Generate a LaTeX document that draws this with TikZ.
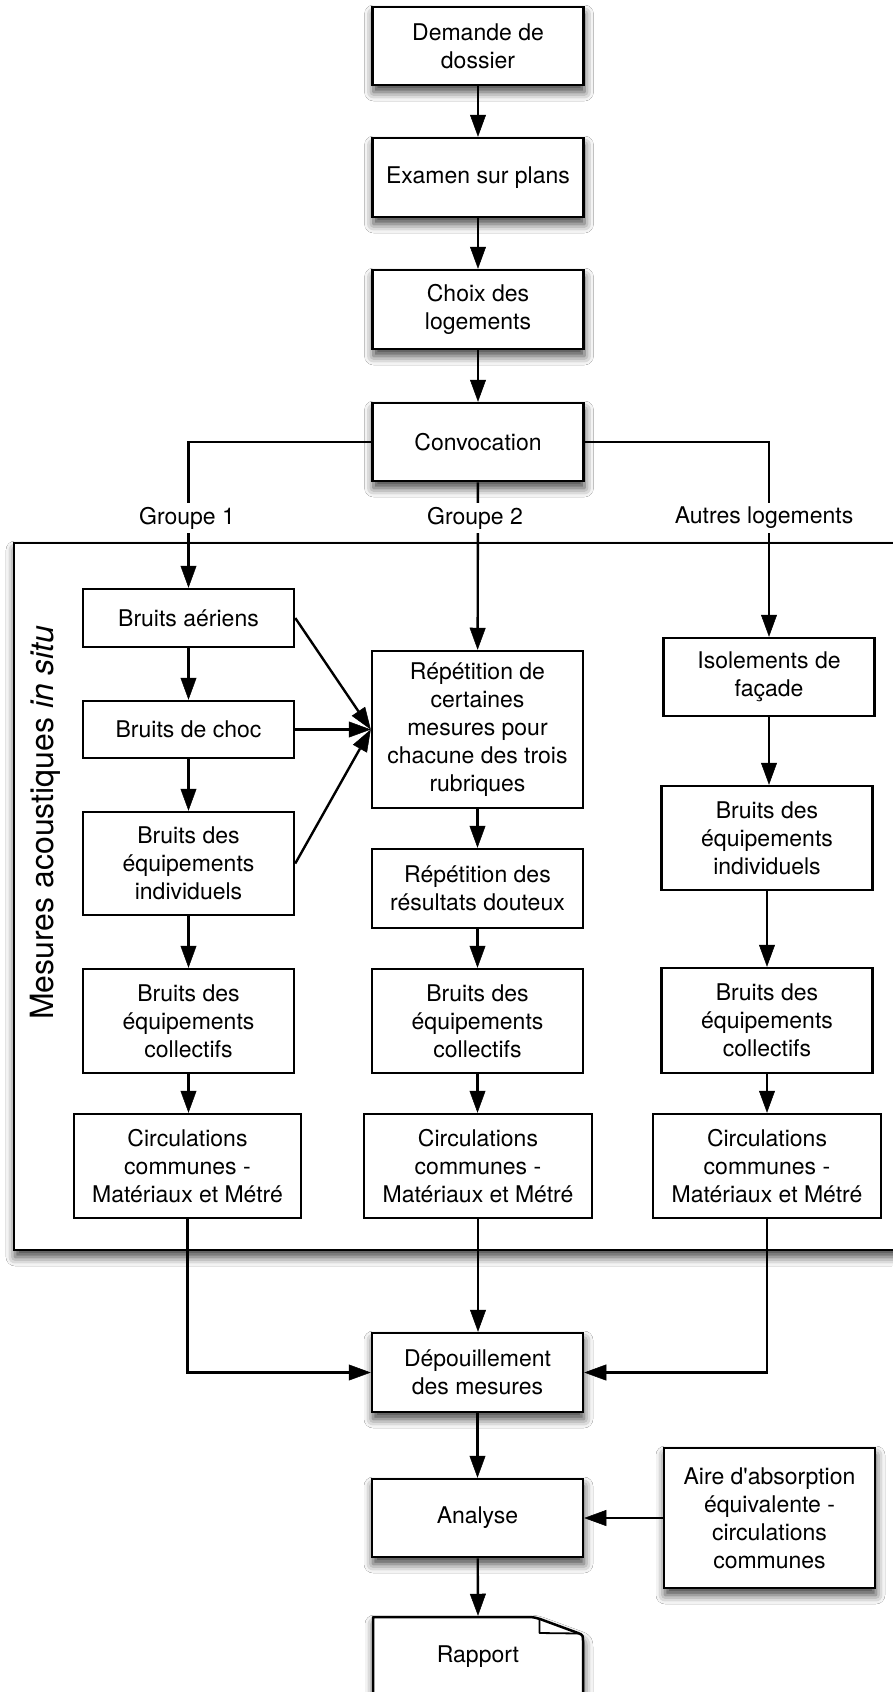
\documentclass[tikz,border=0pt]{standalone}
\usepackage{fontspec}
\setmainfont{TeX Gyre Heros}[Ligatures=TeXOff]
\usetikzlibrary{arrows.meta,shadows.blur}
\tikzset{
  base/.style={draw=black, line width=2.5pt, fill=white, inner sep=2pt, align=center,
    font=\fontsize{23}{28}\selectfont},
  box/.style={base, minimum width=211pt},
  shadowed/.style={blur shadow={shadow xshift=1pt, shadow yshift=-7pt,
    shadow blur radius=9pt, shadow opacity=75}},
  sbox/.style={box, shadowed},
  conn/.style={draw=black, line width=2.4pt,
    -{Triangle[width=16pt,length=22pt,fill=black,line width=0.5pt]}},
  grp/.style={fill=white, inner sep=4pt, font=\fontsize{23}{28}\selectfont},
}
\begin{document}
\begin{tikzpicture}[x=1pt,y=-1pt]
\useasboundingbox (0,0) rectangle (892,1692);
\fill[white] (0,0) rectangle (892,1692);

% big frame
\draw[line width=2.8pt, fill=white, shadowed] (14,543) rectangle (950,1250);
\node[rotate=90, anchor=base west, inner sep=0pt, font=\fontsize{32}{38}\selectfont]
  (titre) at (53,1020) {Mesures acoustiques \textit{in situ}};

% top chain
\node[sbox, minimum height=78pt] (demande) at (478,46) {Demande de\\dossier};
\node[sbox, minimum height=79pt] (examen) at (478,177.5) {Examen sur plans};
\node[sbox, minimum height=79pt] (choix) at (478,309.5) {Choix des\\logements};
\node[sbox, minimum height=78pt] (convoc) at (478,442) {Convocation};

% column 1
\node[box, minimum height=58pt] (ba) at (188.5,618) {Bruits aériens};
\node[box, minimum height=57pt] (bc) at (188.5,729.5) {Bruits de choc};
\node[box, minimum height=103pt] (bi1) at (188.5,863.5) {Bruits des\\équipements\\individuels};
\node[box, minimum height=104pt] (bcol1) at (188.5,1021) {Bruits des\\équipements\\collectifs};
\node[box, minimum width=227pt, minimum height=104pt] (circ1) at (187.5,1166) {Circulations\\communes -\\Matériaux et Métré};

% column 2
\node[box, minimum height=157pt] (rep1) at (477.5,729.5) {Répétition de\\certaines\\mesures pour\\chacune des trois\\rubriques};
\node[box, minimum height=79pt] (rep2) at (477.5,888.5) {Répétition des\\résultats douteux};
\node[box, minimum height=104pt] (bcol2) at (477.5,1021) {Bruits des\\équipements\\collectifs};
\node[box, minimum width=228pt, minimum height=104pt] (circ2) at (478,1166) {Circulations\\communes -\\Matériaux et Métré};

% column 3
\node[box, minimum height=78pt] (iso) at (769,677) {Isolements de\\façade};
\node[box, minimum height=104pt] (bi3) at (767,838) {Bruits des\\équipements\\individuels};
\node[box, minimum height=105pt] (bcol3) at (767,1020.5) {Bruits des\\équipements\\collectifs};
\node[box, minimum width=228pt, minimum height=104pt] (circ3) at (767,1166) {Circulations\\communes -\\Matériaux et Métré};

% bottom chain
\node[sbox, minimum height=79pt] (dep) at (477.5,1372.5) {Dépouillement\\des mesures};
\node[sbox, minimum height=78pt] (analyse) at (477.5,1518) {Analyse};
\node[sbox, minimum height=140pt] (aire) at (769.5,1518) {Aire d'absorption\\équivalente -\\circulations\\communes};

% report (document shape)
\draw[line width=2.5pt, fill=white, shadowed, line join=round]
  (373,1705) -- (373,1617) -- (524,1617) .. controls (533,1617) .. (540,1619)
  -- (578,1633) .. controls (583,1635) .. (583,1642) -- (583,1705) -- cycle;
\draw[line width=1.8pt, line join=round] (539.5,1619) -- (539.5,1633) -- (579,1633.5);
\node[base, draw=none, fill=none, minimum width=211pt, minimum height=80pt] (rapport) at (478,1657) {Rapport};

% connectors
\draw[conn] (demande) -- (examen);
\draw[conn] (examen) -- (choix);
\draw[conn] (choix) -- (convoc);
\draw[conn] (convoc.west) -| (ba.north);
\draw[conn] (convoc) -- (rep1);
\draw[conn] (convoc.east) -| (iso.north);
\node[grp] (g1) at (187,518) {Groupe 1};
\node[grp] (g2) at (475,518) {Groupe 2};
\node[grp] (g3) at (764,518) {Autres logements};

\draw[conn] (ba) -- (bc);
\draw[conn] (bc) -- (bi1);
\draw[conn] (bi1) -- (bcol1);
\draw[conn] (bcol1.south) -- (bcol1.south |- circ1.north);
\draw[conn] (ba.east) -- (rep1.west);
\draw[conn] (bc.east) -- (rep1.west);
\draw[conn] (bi1.east) -- (rep1.west);

\draw[conn] (rep1) -- (rep2);
\draw[conn] (rep2) -- (bcol2);
\draw[conn] (bcol2.south) -- (bcol2.south |- circ2.north);

\draw[conn] (iso.south) -- (iso.south |- bi3.north);
\draw[conn] (bi3) -- (bcol3);
\draw[conn] (bcol3) -- (circ3);

\draw[conn] (circ1.south) |- (dep.west);
\draw[conn] (circ2.south) -- (circ2.south |- dep.north);
\draw[conn] (circ3.south) |- (dep.east);
\draw[conn] (dep) -- (analyse);
\draw[conn] (aire.west) -- (analyse.east);
\draw[conn] (analyse) -- (rapport.north);
\end{tikzpicture}
\end{document}
